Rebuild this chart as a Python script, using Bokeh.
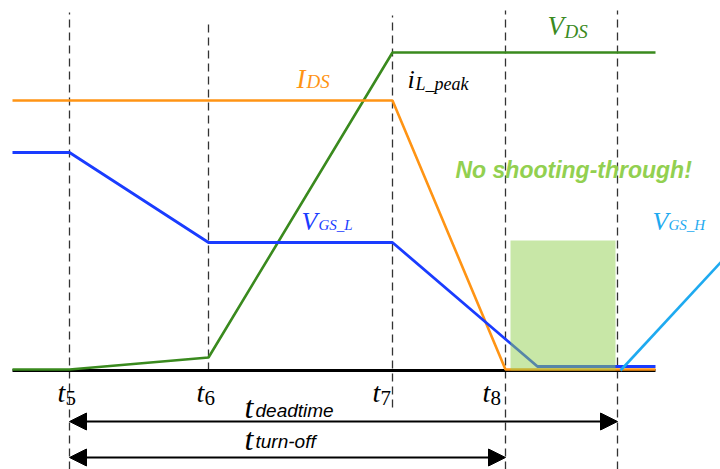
from bokeh.plotting import figure
from bokeh.models import Range1d, Label, Arrow, NormalHead
from bokeh.embed import file_html
from bokeh.resources import INLINE

# ---- data (time in a.u., amplitude in a.u.) ----
time_marks = [69, 208, 392, 505, 617]          # t5, t6, t7, t8, end of dead time
mark_names = ["5", "6", "7", "8"]

ids_t = [12, 392, 505, 655]
ids_v = [270, 270, 1, 1]

vds_t = [12, 69, 208, 392, 655]
vds_v = [1, 1, 13, 318, 318]

vgsl_t = [12, 69, 208, 392, 537, 655]
vgsl_v = [218, 218, 128, 128, 4, 4]

vgsh_t = [620, 722]
vgsh_v = [0, 110]

base_t = [12, 655]
base_v = [0, 0]

window_t = [510, 615]
window_v = [0, 130]

# ---- layout constants ----
dash_top = [358, 351, 355, 360, 360]
dash_bot = [-99, 0, -37, -99, -99]
arrow_dead_y = -51
arrow_off_y = -87

SERIF = "Liberation Serif"
SANS = "Liberation Sans"
C_ORANGE = "#ff9414"
C_GREEN = "#3a8a1e"
C_BLUE = "#1a3cff"
C_CYAN = "#1eaaf0"
C_LGREEN = "#92d050"

p = figure(width=720, height=469, x_range=Range1d(0, 720), y_range=Range1d(-99, 370),
           output_backend="svg", toolbar_location=None, min_border=0)
p.axis.visible = False
p.grid.visible = False
p.outline_line_color = None
p.background_fill_color = "white"

# dashed time markers
p.segment(x0=time_marks, y0=dash_bot, x1=time_marks, y1=dash_top,
          line_color="#333333", line_width=1.3, line_dash="8 5")

# baseline
p.line(base_t, base_v, line_color="black", line_width=3)

# waveforms
p.line(vds_t, vds_v, line_color=C_GREEN, line_width=2.6)
p.line(ids_t, ids_v, line_color=C_ORANGE, line_width=2.6)
p.line(vgsl_t, vgsl_v, line_color=C_BLUE, line_width=2.8)
p.line(vgsh_t, vgsh_v, line_color=C_CYAN, line_width=2.6)

# no shoot-through window
p.quad(left=window_t[0], right=window_t[1], bottom=window_v[0], top=window_v[1],
       fill_color=C_LGREEN, fill_alpha=0.5, line_color=None)

# arrows
for y_, x_end in [(arrow_dead_y, time_marks[4]), (arrow_off_y, time_marks[3])]:
    p.add_layout(Arrow(start=NormalHead(size=17, fill_color="black", line_color="black"),
                       end=NormalHead(size=17, fill_color="black", line_color="black"),
                       x_start=time_marks[0], y_start=y_, x_end=x_end, y_end=y_,
                       line_color="black", line_width=2))

DY = 8  # baseline correction


def lab(x, y, text, size, color="black", font=SERIF, style="italic"):
    p.add_layout(Label(x=x, y=y + DY, text=text, text_font=font, text_font_style=style,
                       text_font_size=size, text_color=color,
                       text_baseline="alphabetic", text_align="left"))


# signal labels (main letter + subscript)
lab(547, 337, "V", "27px", C_GREEN)
lab(564, 331, "DS", "19px", C_GREEN)

lab(296, 284, "I", "27px", C_ORANGE)
lab(306, 281, "DS", "19px", C_ORANGE)

lab(407, 283, "i", "26px")
lab(415, 279, "L_peak", "18px")

lab(301, 141, "V", "26px", C_BLUE)
lab(318, 138, "GS_L", "15px", C_BLUE)

lab(652, 141, "V", "26px", C_CYAN)
lab(668, 138, "GS_H", "15px", C_CYAN)

lab(455, 193, "No shooting-through!", "23px", C_LGREEN, SANS, "bold italic")

# time labels
t_lab_x = [57, 196, 372, 482]
for tx, nm in zip(t_lab_x, mark_names):
    lab(tx, -30, "t", "28px")
    lab(tx + 8, -35, nm, "21px", "black", SERIF, "normal")

lab(244, -44, "t", "32px")
lab(255, -48, "deadtime", "19px", "black", SANS, "italic")
lab(244, -76, "t", "32px")
lab(255, -79, "turn-off", "19px", "black", SANS, "italic")

open("out.html", "w").write(file_html(p, INLINE))
